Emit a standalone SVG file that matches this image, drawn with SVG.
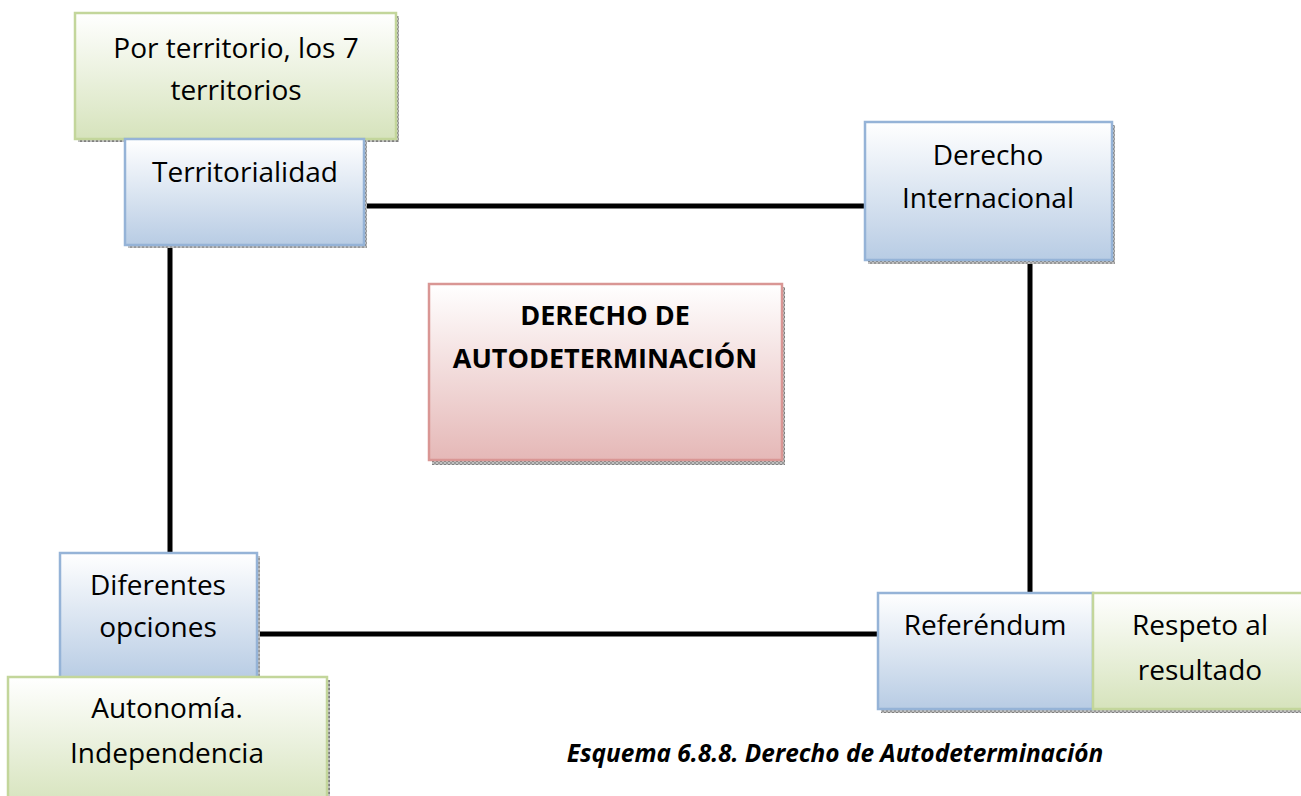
<svg xmlns="http://www.w3.org/2000/svg" width="1301" height="796" viewBox="0 0 1301 796">
<style>
.t{font-family:"Open Sans","Noto Sans",sans-serif;font-size:28px;fill:#000;text-anchor:middle}
.b{font-weight:bold;font-size:27px}
.cap{font-family:"Open Sans","Noto Sans",sans-serif;font-size:24.4px;font-weight:bold;font-style:italic;text-anchor:middle}
.blue{fill:url(#gB);stroke:#95b3d7;stroke-width:2.5}
.green{fill:url(#gG);stroke:#c3d69b;stroke-width:2.5}
.red{fill:url(#gR);stroke:#d99694;stroke-width:2.5}
.sh{fill:url(#hatch)}
.c{stroke:#000;stroke-width:5;fill:none}
</style>
<defs>
<linearGradient id="gB" x1="0" y1="0" x2="0" y2="1"><stop offset="0" stop-color="#ffffff"/><stop offset="1" stop-color="#b8cce4"/></linearGradient>
<linearGradient id="gG" x1="0" y1="0" x2="0" y2="1"><stop offset="0" stop-color="#ffffff"/><stop offset="1" stop-color="#d6e3bc"/></linearGradient>
<linearGradient id="gR" x1="0" y1="0" x2="0" y2="1"><stop offset="0" stop-color="#ffffff"/><stop offset="1" stop-color="#e5b8b7"/></linearGradient>
<pattern id="hatch" width="4" height="4" patternUnits="userSpaceOnUse"><rect width="4" height="4" fill="#c0c0c0"/><rect width="2" height="2" fill="#808080"/><rect x="2" y="2" width="2" height="2" fill="#999"/></pattern>
</defs>
<rect width="1301" height="796" fill="#fff"/>
<g id="connectors">
<line class="c" x1="364" y1="206" x2="866" y2="206"/>
<line class="c" x1="170" y1="246" x2="170" y2="554"/>
<line class="c" x1="1030" y1="260" x2="1030" y2="594"/>
<line class="c" x1="256" y1="634" x2="879" y2="634"/>
</g>
<g id="n-por-territorio">
<rect class="sh" x="78" y="16" width="321" height="126"/>
<rect class="green" x="75" y="13" width="321" height="126"/>
<text class="t" x="236" y="58">Por territorio, los 7</text>
<text class="t" x="236" y="100">territorios</text>
</g>
<g id="n-territorialidad">
<rect class="sh" x="128" y="142" width="239" height="106"/>
<rect class="blue" x="125" y="139" width="239" height="106"/>
<text class="t" x="245" y="182">Territorialidad</text>
</g>
<g id="n-derecho-internacional">
<rect class="sh" x="868" y="125" width="247" height="139"/>
<rect class="blue" x="865" y="122" width="247" height="138"/>
<text class="t" x="988" y="165">Derecho</text>
<text class="t" x="988" y="208">Internacional</text>
</g>
<g id="n-centro">
<rect class="sh" x="432" y="287" width="353" height="178"/>
<rect class="red" x="429" y="284" width="353" height="176"/>
<text class="t b" x="605" y="325">DERECHO DE</text>
<text class="t b" x="605" y="368">AUTODETERMINACIÓN</text>
</g>
<g id="n-diferentes">
<rect class="sh" x="63" y="556" width="197" height="126"/>
<rect class="blue" x="60" y="553" width="197" height="126"/>
<text class="t" x="158" y="595">Diferentes</text>
<text class="t" x="158" y="637">opciones</text>
</g>
<g id="n-autonomia">
<rect class="sh" x="11" y="680" width="319" height="130"/>
<rect class="green" x="8" y="677" width="319" height="130"/>
<text class="t" x="167" y="718">Autonomía.</text>
<text class="t" x="167" y="763">Independencia</text>
</g>
<g id="n-referendum">
<rect class="sh" x="881" y="596" width="215" height="117"/>
<rect class="blue" x="878" y="593" width="215" height="116"/>
<text class="t" x="985" y="635">Referéndum</text>
</g>
<g id="n-respeto">
<rect class="sh" x="1096" y="596" width="215" height="117"/>
<rect class="green" x="1093" y="593" width="215" height="116"/>
<text class="t" x="1200" y="635">Respeto al</text>
<text class="t" x="1200" y="680">resultado</text>
</g>
<text class="cap" x="835" y="762">Esquema 6.8.8. Derecho de Autodeterminación</text>
</svg>
